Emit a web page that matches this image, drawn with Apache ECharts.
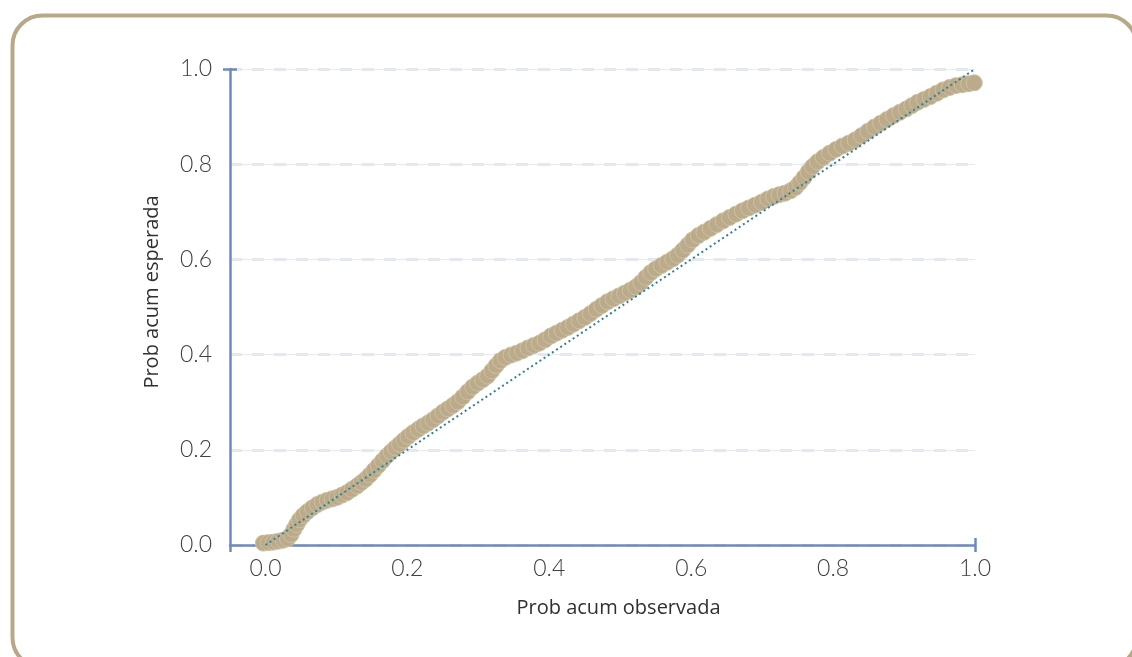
<!DOCTYPE html>
<html>
<head>
<meta charset="utf-8">
<script src="https://cdn.jsdelivr.net/npm/echarts@6/dist/echarts.min.js"></script>
<style>html,body{margin:0;padding:0;background:#fff;}#chart{width:1132px;height:657px;}</style>
</head>
<body>
<div id="chart"></div>
<script>
// Observed cumulative probability (x) and expected cumulative probability (y)
var obsX = [-0.003,0.004,0.011,0.018,0.025,0.031,0.036,0.040,0.044,0.048,0.053,0.059,0.066,0.073,0.080,0.087,0.094,0.101,0.108,0.115,0.122,0.129,0.135,0.141,0.147,0.153,0.159,0.165,0.171,0.177,0.183,0.189,0.195,0.201,0.208,0.215,0.222,0.229,0.236,0.243,0.250,0.257,0.264,0.271,0.278,0.285,0.292,0.299,0.306,0.313,0.319,0.325,0.331,0.338,0.346,0.354,0.362,0.370,0.378,0.386,0.394,0.402,0.410,0.418,0.426,0.434,0.442,0.450,0.458,0.466,0.474,0.482,0.490,0.498,0.506,0.514,0.522,0.529,0.536,0.543,0.550,0.558,0.566,0.574,0.581,0.588,0.595,0.602,0.610,0.618,0.627,0.636,0.645,0.654,0.663,0.672,0.681,0.690,0.699,0.708,0.716,0.724,0.732,0.740,0.747,0.753,0.759,0.765,0.771,0.778,0.786,0.795,0.804,0.813,0.822,0.831,0.840,0.849,0.858,0.867,0.876,0.885,0.894,0.903,0.911,0.919,0.928,0.937,0.946,0.955,0.964,0.973,0.982,0.991,0.999];
var expY = [0.004,0.005,0.006,0.008,0.010,0.013,0.022,0.033,0.043,0.053,0.062,0.070,0.078,0.085,0.090,0.094,0.097,0.100,0.105,0.110,0.117,0.124,0.131,0.138,0.147,0.157,0.167,0.177,0.187,0.196,0.204,0.212,0.220,0.228,0.236,0.243,0.250,0.256,0.263,0.271,0.279,0.286,0.293,0.301,0.311,0.322,0.332,0.340,0.347,0.355,0.366,0.377,0.387,0.394,0.399,0.403,0.408,0.414,0.419,0.424,0.431,0.439,0.445,0.451,0.457,0.464,0.471,0.478,0.486,0.495,0.503,0.511,0.517,0.523,0.529,0.535,0.542,0.551,0.562,0.572,0.580,0.587,0.594,0.601,0.609,0.619,0.630,0.641,0.650,0.657,0.665,0.673,0.681,0.688,0.695,0.702,0.708,0.714,0.720,0.727,0.732,0.736,0.739,0.744,0.751,0.761,0.772,0.784,0.795,0.805,0.814,0.823,0.831,0.838,0.844,0.851,0.860,0.869,0.878,0.886,0.894,0.902,0.909,0.916,0.923,0.930,0.936,0.942,0.949,0.956,0.961,0.965,0.967,0.969,0.971];
// Reference (diagonal) line endpoints
var refX = [0, 1];
var refY = [0, 1];
var tickLabels = [0, 0.2, 0.4, 0.6, 0.8, 1.0];

var scatterData = obsX.map(function (x, i) { return [x, expY[i]]; });
var refData = refX.map(function (x, i) { return [x, refY[i]]; });

var chart = echarts.init(document.getElementById('chart'), null, {renderer: 'canvas'});
var axisColor = '#7089bd';
var labelStyle = {color: '#404040', fontFamily: 'Lato', fontWeight: 300, fontSize: 23};
function fmt(v) { return v.toFixed(1); }
function hiddenY(extra) {
  return Object.assign({
    type: 'value', min: 0, max: 1.0, interval: 0.2, position: 'left',
    axisLine: {show: false, onZero: false}, axisTick: {show: false},
    axisLabel: {show: false}, splitLine: {show: false}
  }, extra);
}
var option = {
  backgroundColor: '#ffffff',
  animation: false,
  graphic: [{
    type: 'rect', left: 10, top: 13, z: -10,
    shape: {x: 0, y: 0, width: 1124, height: 652, r: 30},
    style: {fill: 'none', stroke: '#b8a888', lineWidth: 4}
  }],
  grid: {left: 230, right: 157, top: 69, bottom: 112},
  xAxis: [{
    type: 'value', min: -0.05, max: 1.0,
    name: 'Prob acum observada', nameLocation: 'middle', nameGap: 53,
    nameTextStyle: {color: '#303030', fontFamily: 'Open Sans', fontSize: 20, padding: [0, 0, 0, 32]},
    axisLine: {show: true, onZero: false, lineStyle: {color: axisColor, width: 2.5}},
    axisTick: {show: true, length: 7, lineStyle: {color: axisColor, width: 2.5}, customValues: [-0.05, 1.0]},
    axisLabel: Object.assign({margin: 12, customValues: tickLabels, formatter: fmt}, labelStyle),
    splitLine: {show: false}
  }, {
    type: 'value', min: -0.05, max: 1.0, position: 'bottom',
    axisLine: {show: false, onZero: false},
    axisTick: {show: true, inside: true, length: 7, lineStyle: {color: axisColor, width: 2.5}, customValues: [1.0]},
    axisLabel: {show: false}, splitLine: {show: false}
  }],
  yAxis: [{
    type: 'value', min: 0, max: 1.0, interval: 0.2, position: 'left',
    name: 'Prob acum esperada', nameLocation: 'middle', nameGap: 68, nameRotate: 90,
    nameTextStyle: {color: '#303030', fontFamily: 'Open Sans', fontSize: 20, padding: [0, 0, 0, 30]},
    axisLine: {show: true, onZero: false, lineStyle: {color: axisColor, width: 2.5}},
    axisTick: {show: false},
    axisLabel: Object.assign({margin: 18, formatter: fmt}, labelStyle),
    splitLine: {show: true, lineStyle: {color: '#d9dfec', width: 2.5, type: [12, 10]}}
  },
  hiddenY({splitLine: {show: true, lineStyle: {color: '#e6e9f2', width: 1}}}),
  hiddenY({axisTick: {show: true, length: 7, lineStyle: {color: axisColor, width: 2.5}, customValues: [1.0]}}),
  hiddenY({axisTick: {show: true, inside: true, length: 7, lineStyle: {color: axisColor, width: 2.5}, customValues: [1.0]}})
  ],
  series: [{
    type: 'scatter', data: scatterData, symbol: 'circle', symbolSize: 16,
    itemStyle: {color: '#bbab8b', borderColor: '#cdc0a4', borderWidth: 1, opacity: 1},
    z: 3
  }, {
    type: 'line', data: refData, symbol: 'none',
    lineStyle: {color: '#2f8098', width: 2, type: [2, 3]},
    z: 5
  }]
};
chart.setOption(option);
</script>
</body>
</html>
